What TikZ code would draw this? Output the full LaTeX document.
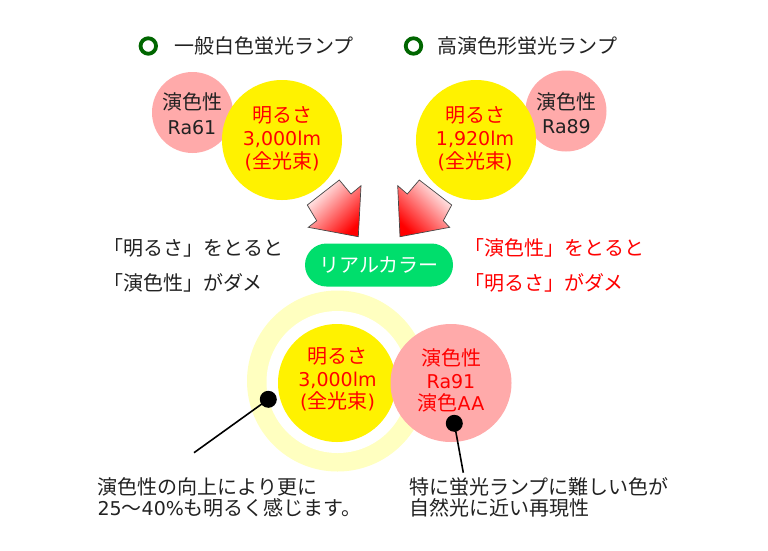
\documentclass[tikz,border=0pt]{standalone}
\usepackage{fontspec}
\usetikzlibrary{shapes.geometric}
\setmainfont{Noto Sans CJK JP}
\newfontfamily\lt{DejaVu Sans}[Scale=0.95]
\definecolor{pinkc}{RGB}{255,170,170}
\definecolor{paley}{RGB}{255,255,192}
\definecolor{pillg}{RGB}{0,222,108}
\definecolor{dgreen}{RGB}{0,102,0}
\definecolor{txtc}{RGB}{34,34,34}
\definecolor{redt}{RGB}{255,0,0}
\definecolor{edgec}{RGB}{70,70,70}
\begin{document}
\begin{tikzpicture}[x=1pt,y=-1pt,
  txt/.style={font=\fontsize{20}{21}\selectfont, inner sep=0pt, text=txtc},
  ctext/.style={font=\fontsize{20}{23}\selectfont, inner sep=0pt, align=center, text=redt},
  disc/.style={circle, inner sep=0pt, draw=none},
  ringsty/.style={circle, draw=dgreen, line width=3.8pt, minimum size=15.5pt, inner sep=0pt, outer sep=0pt},
  arrowsty/.style={draw=edgec, line width=0.7pt, line join=miter},
  blackdot/.style={circle, fill=black, minimum size=17pt, inner sep=0pt},
  leader/.style={black, line width=1.6pt}
]
\useasboundingbox (0,0) rectangle (768,550);
\fill[white] (0,0) rectangle (768,550);

% headers
\node[ringsty] (r1) at (148.3,46) {};
\node[ringsty] (r2) at (413.5,46) {};
\node[txt, anchor=west] (h1) at (174,46) {一般白色蛍光ランプ};
\node[txt, anchor=west] (h2) at (437.5,46) {高演色形蛍光ランプ};

% top-left circles
\node[disc, fill=pinkc, minimum size=81pt] (p1) at (192.5,112.5) {};
\node[ctext, text=txtc, font=\fontsize{20}{25}\selectfont] (p1t) at (192,114) {演色性\\{\lt Ra61}};
\node[disc, fill=yellow, minimum size=120pt] (y1) at (282,140) {};
\node[ctext] (y1t) at (282,139) {明るさ\\{\lt 3,000lm}\\{\lt(}全光束{\lt)}};

% top-right circles
\node[disc, fill=pinkc, minimum size=81pt] (p2) at (566,111) {};
\node[ctext, text=txtc, font=\fontsize{20}{24}\selectfont] (p2t) at (566.5,113.5) {演色性\\{\lt Ra89}};
\node[disc, fill=yellow, minimum size=120pt] (y2) at (476,140) {};
\node[ctext] (y2t) at (475,139) {明るさ\\{\lt 1,920lm}\\{\lt(}全光束{\lt)}};

% arrows
\shadedraw[arrowsty, top color=white, middle color=red, bottom color=red, shading angle=45]
  (339.3,180) -- (307.3,205) -- (316.7,220.7) -- (308.3,227.3) -- (358.3,236.7) -- (361,185.7) -- (351,194) -- cycle;
\shadedraw[arrowsty, top color=white, middle color=red, bottom color=red, shading angle=-45]
  (419.3,180) -- (451.7,205) -- (443.3,220.7) -- (449.7,227.3) -- (400,236.7) -- (397.7,185.7) -- (407.3,194) -- cycle;

% pill
\node[rectangle, rounded corners=21.5pt, fill=pillg, minimum width=148pt, minimum height=43pt, inner sep=0pt,
      text=white, font=\fontsize{20}{21}\selectfont] (pill) at (379,265) {リアルカラー};

% side texts
\node[txt, anchor=west, align=left, font=\fontsize{20}{35}\selectfont] (lt) at (103,265.8)
  {「明るさ」をとると\\「演色性」がダメ};
\node[txt, anchor=west, align=left, text=redt, font=\fontsize{20}{35}\selectfont] (rt) at (464,265.8)
  {「演色性」をとると\\「明るさ」がダメ};

% bottom circles
\node[disc, fill=paley, minimum size=181pt] (halo) at (337.5,381) {};
\node[disc, fill=white, minimum size=142pt] (gap) at (337.5,382) {};
\node[disc, fill=yellow, minimum size=118pt] (y3) at (337,383) {};
\node[ctext, font=\fontsize{20}{22.5}\selectfont] (y3t) at (337.5,379.5) {明るさ\\{\lt 3,000lm}\\{\lt(}全光束{\lt)}};
\node[ellipse, fill=pinkc, inner sep=0pt, minimum width=121pt, minimum height=118pt] (p3) at (451,383) {};
\node[ctext, font=\fontsize{20}{22.5}\selectfont] (p3t) at (451,380.6) {演色性\\{\lt Ra91}\\演色{\lt AA}};

% leaders
\coordinate (e1) at (194,452.7);
\coordinate (e2) at (463.3,472.7);
\coordinate (c1) at (268.3,399.3);
\coordinate (c2) at (454.3,423.3);
\draw[leader] (c1) -- (e1);
\draw[leader] (c2) -- (e2);
\node[blackdot] (d1) at (c1) {};
\node[blackdot] (d2) at (c2) {};

% bottom texts
\node[txt, anchor=west, align=left] (bl) at (97.3,497.8)
  {演色性の向上により更に\\{\lt 25}〜{\lt 40\%}も明るく感じます。};
\node[txt, anchor=west, align=left] (br) at (409,497.8)
  {特に蛍光ランプに難しい色が\\自然光に近い再現性};
\end{tikzpicture}
\end{document}
